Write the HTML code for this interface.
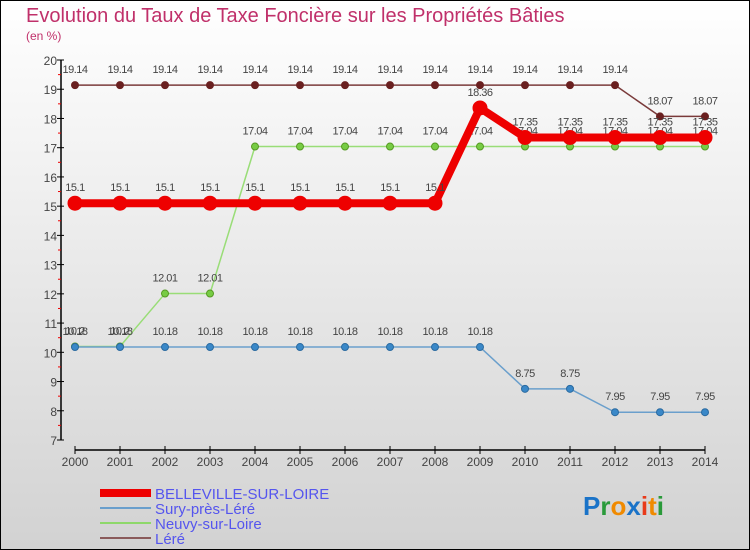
<!DOCTYPE html>
<html><head><meta charset="utf-8"><style>
body{margin:0}
#c{width:750px;height:550px;position:relative;overflow:hidden}
</style></head><body>
<div id="c">
<svg id="s" width="750" height="550" xmlns="http://www.w3.org/2000/svg" font-family="Liberation Sans, sans-serif">
<defs><linearGradient id="bg" x1="0" y1="0" x2="0" y2="1"><stop offset="0" stop-color="#ffffff"/><stop offset="1" stop-color="#d2d2d2"/></linearGradient></defs>
<rect x="0.5" y="0.5" width="749" height="549" fill="url(#bg)" stroke="#000"/>
<text x="26" y="22" font-size="20" fill="#c0306a">Evolution du Taux de Taxe Foncière sur les Propriétés Bâties</text>
<text x="26" y="40" font-size="12" fill="#c0306a">(en %)</text>
<g id="axes"></g><g id="series"></g>
<g>
<rect x="100" y="489" width="51" height="8" fill="#e00"/>
<text x="155" y="499" font-size="15" fill="#5555ee">BELLEVILLE-SUR-LOIRE</text>
<rect x="100" y="507" width="51" height="2" fill="#6a9fcc"/>
<text x="155" y="514" font-size="15" fill="#5555ee">Sury-près-Léré</text>
<rect x="100" y="522" width="51" height="2" fill="#8ed86a"/>
<text x="155" y="529" font-size="15" fill="#5555ee">Neuvy-sur-Loire</text>
<rect x="100" y="537" width="51" height="2" fill="#8a5a5a"/>
<text x="155" y="544" font-size="15" fill="#5555ee">Léré</text>
</g>
<g font-size="26" font-weight="bold">
<text x="583" y="515"><tspan fill="#1a73c8">P</tspan><tspan fill="#2a9a3a">r</tspan><tspan fill="#f08a00">o</tspan><tspan fill="#1a73c8">x</tspan><tspan fill="#e83a1a">i</tspan><tspan fill="#f08a00">t</tspan><tspan fill="#2a9a3a">i</tspan></text>
</g>
</svg>
</div>
<script>
const years=[2000,2001,2002,2003,2004,2005,2006,2007,2008,2009,2010,2011,2012,2013,2014];
const yTicks=[7,8,9,10,11,12,13,14,15,16,17,18,19,20];
const belleville=[15.1,15.1,15.1,15.1,15.1,15.1,15.1,15.1,15.1,18.36,17.35,17.35,17.35,17.35,17.35];
const sury=[10.18,10.18,10.18,10.18,10.18,10.18,10.18,10.18,10.18,10.18,8.75,8.75,7.95,7.95,7.95];
const neuvy=[10.2,10.2,12.01,12.01,17.04,17.04,17.04,17.04,17.04,17.04,17.04,17.04,17.04,17.04,17.04];
const lere=[19.14,19.14,19.14,19.14,19.14,19.14,19.14,19.14,19.14,19.14,19.14,19.14,19.14,18.07,18.07];
const NS='http://www.w3.org/2000/svg';
const x=i=>75+i*(630/(years.length-1));
const y=v=>60+(20-v)*(380/13);
function mk(t,a,p){const e=document.createElementNS(NS,t);for(const k in a)e.setAttribute(k,a[k]);p.appendChild(e);return e;}
const ax=document.getElementById('axes');
let e=mk('line',{x1:61,y1:y(20),x2:61,y2:y(7),stroke:'#000','stroke-width':1.5},ax);


yTicks.forEach(v=>{
  mk('line',{x1:57,y1:y(v),x2:64,y2:y(v),stroke:'#000'},ax);
  if(v<20){mk('line',{x1:58,y1:y(v+0.5),x2:61,y2:y(v+0.5),stroke:'#e00'},ax);}
  const t=mk('text',{x:57,y:y(v)+5,'font-size':12,fill:'#444','text-anchor':'end'},ax);t.textContent=v;
  
  
});
e=mk('line',{x1:x(0),y1:450,x2:x(years.length-1),y2:450,stroke:'#000','stroke-width':1.5},ax);


years.forEach((yr,i)=>{
  mk('line',{x1:x(i),y1:446,x2:x(i),y2:454,stroke:'#000'},ax);
  const t=mk('text',{x:x(i),y:466,'font-size':12,fill:'#444','text-anchor':'middle'},ax);t.textContent=yr;
  
  
});
const sg=document.getElementById('series');
function series(vals,name,col,w,r,dot,dotStroke){
  const g=mk('g',{},sg);
  
  
  mk('polyline',{points:vals.map((v,i)=>x(i)+','+y(v)).join(' '),fill:'none',stroke:col,'stroke-width':w,'stroke-linejoin':'round'},g);
  vals.forEach((v,i)=>{
    const c=mk('circle',{cx:x(i),cy:y(v),r:r,fill:dot,stroke:dotStroke,'stroke-width':1},g);
    
    
    const t=mk('text',{x:x(i),y:y(v)-12,'font-size':11,fill:'#444','text-anchor':'middle','letter-spacing':'-0.5'},g);
    t.textContent=v;
    
    
  });
}
series(lere,'lere','#7a3a3a',1.5,3.5,'#6a2020','#6a2020');
series(neuvy,'neuvy','#99dd77',1.5,3.5,'#77cc44','#559922');
series(sury,'sury','#6a9fcc',1.5,3.5,'#3a88c8','#2a6aa0');
series(belleville,'belleville','#ee0000',8,7,'#ee0000','#ee0000');
</script>
</body></html>
